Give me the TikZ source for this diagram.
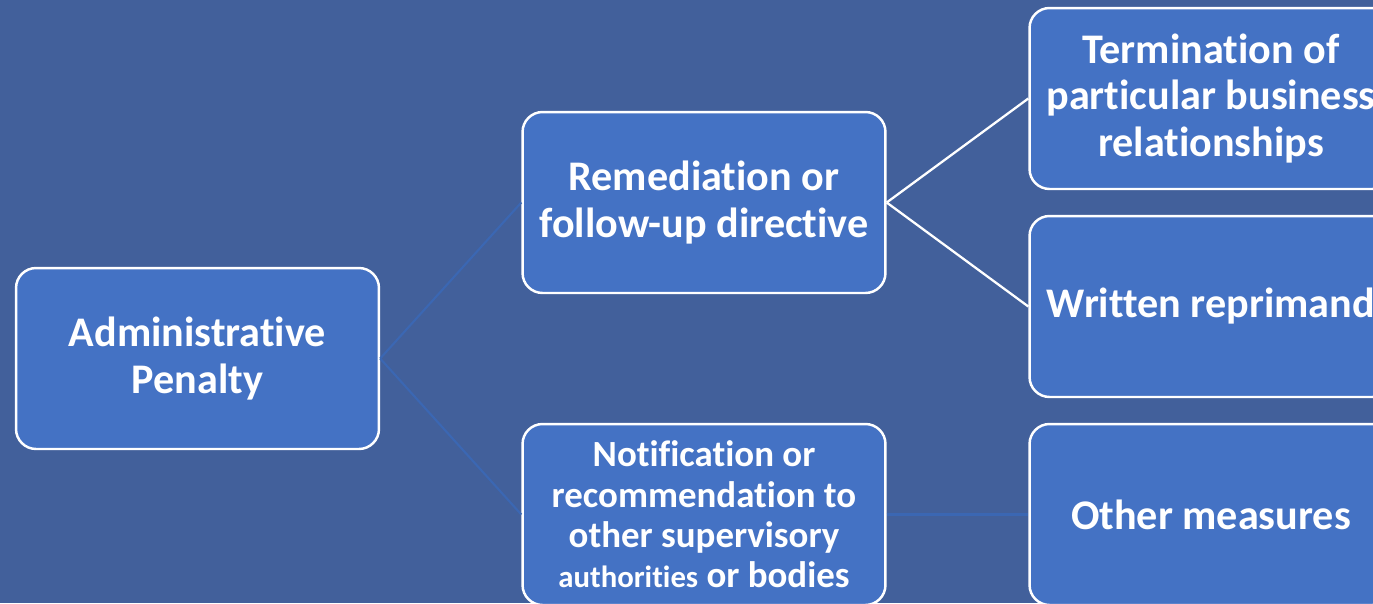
\documentclass[tikz,border=0pt]{standalone}
\usepackage{fontspec}
\setmainfont[Ligatures={NoCommon,NoRare}]{Carlito}
\usetikzlibrary{positioning}

\definecolor{slide}{HTML}{42609B}
\definecolor{boxfill}{HTML}{4472C4}
\definecolor{faintline}{HTML}{3B67B3}

\begin{document}
\begin{tikzpicture}[x=0.02cm,y=-0.02cm,
    box/.style={draw=white, line width=1.4pt, fill=boxfill, rounded corners=0.4cm,
        minimum width=7.26cm, minimum height=3.62cm, inner sep=0pt, align=center,
        text=white, font=\bfseries\fontsize{24}{26.6}\selectfont},
    small/.style={font=\bfseries\fontsize{21}{23}\selectfont},
    link/.style={white, line width=1.3pt},
    faint/.style={faintline, line width=1.2pt}]
    % page
    \fill[slide] (0,0) rectangle (1373,603);
    \useasboundingbox (0,0) rectangle (1373,603);
    \clip (0,0) rectangle (1373,603);
    % boxes
    \node[box] (penalty) at (197.5,358.5) {Administrative\\Penalty};
    \node[box] (remedy) at (704,202.5) {Remediation or\\follow-up directive};
    \node[box,small] (notify) at (704,514.5) {Notification or\\recommendation to\\other supervisory\\{\fontsize{17.5}{23}\selectfont authorities} or bodies};
    \node[box] (terminate) at (1211,98.5) {Termination of\\particular business\\relationships};
    \node[box] (reprimand) at (1211,306.5) {Written reprimand};
    \node[box] (other) at (1211,514.5) {Other measures};
    % connectors
    \draw[faint] (penalty.east) -- (remedy.west);
    \draw[faint] (penalty.east) -- (notify.west);
    \draw[link] (remedy.east) -- (terminate.west);
    \draw[link] (remedy.east) -- (reprimand.west);
    \draw[faint] (notify.east) -- (other.west);
\end{tikzpicture}
\end{document}
